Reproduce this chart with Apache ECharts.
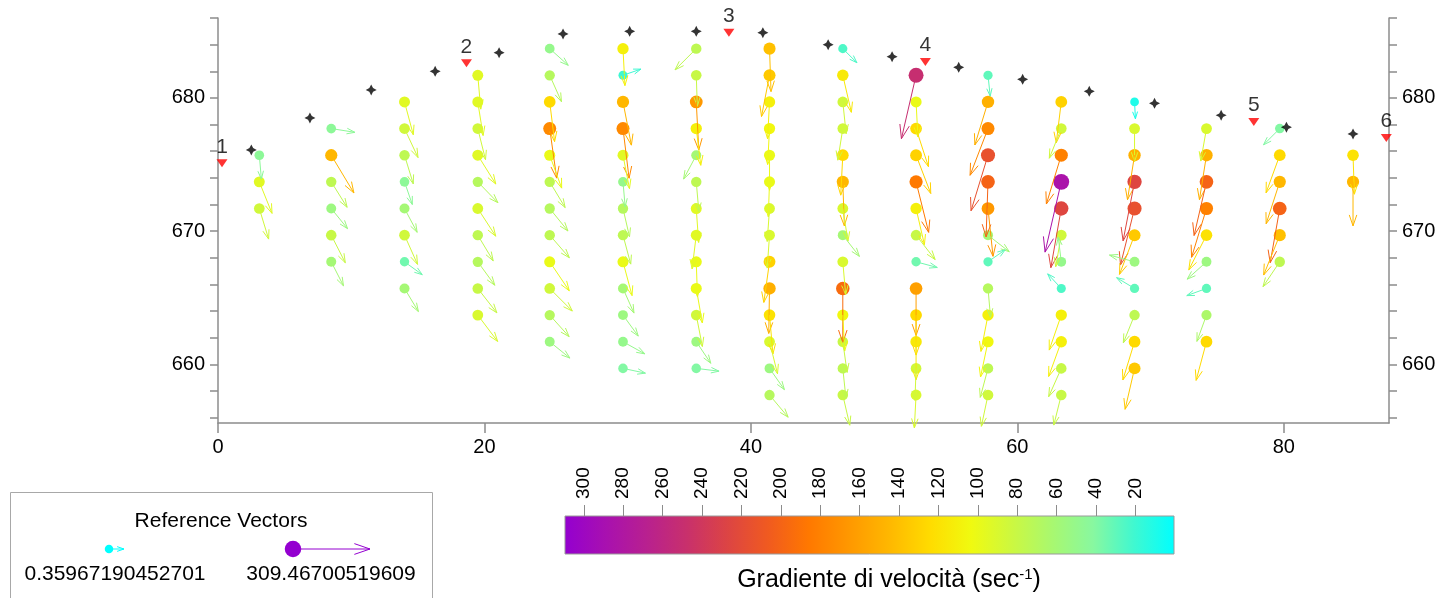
<!DOCTYPE html>
<html>
<head>
<meta charset="utf-8">
<script src="https://cdn.jsdelivr.net/npm/echarts@6/dist/echarts.min.js"></script>
<style>
  html, body { margin: 0; padding: 0; background: #ffffff; }
  #chart { width: 1443px; height: 598px; }
</style>
</head>
<body>
<div id="chart"></div>
<script>
// ---- data ---------------------------------------------------------------
// x position (m) of each vertical line of vectors
const columnX = [3.1, 8.5, 14.0, 19.5, 24.9, 30.4, 35.9, 41.4, 46.9, 52.4, 57.8, 63.3, 68.8, 74.2, 79.7, 85.2];

// per column: [elevation (m), velocity gradient (1/s), direction (deg, 0 = +x, counter-clockwise)]
const col01 = [[675.7, 45, -85], [673.7, 95, -68], [671.7, 85, -73]];
const col02 = [[677.7, 45, -9], [675.7, 145, -59], [673.7, 75, -58], [671.7, 55, -51], [669.7, 80, -63], [667.7, 60, -63]];
const col03 = [[679.7, 95, -75], [677.7, 85, -65], [675.7, 75, -73], [673.7, 45, -71], [671.7, 60, -62], [669.7, 85, -66], [667.7, 35, -36], [665.7, 60, -59]];
const col04 = [[681.7, 95, -85], [679.7, 95, -81], [677.7, 85, -76], [675.7, 95, -58], [673.7, 70, -46], [671.7, 90, -57], [669.7, 75, -59], [667.7, 70, -54], [665.7, 80, -52], [663.7, 90, -53]];
const col05 = [[683.7, 50, -42], [681.7, 70, -66], [679.7, 125, -83], [677.7, 175, -82], [675.7, 100, -70], [673.7, 75, -59], [671.7, 70, -51], [669.7, 75, -49], [667.7, 100, -56], [665.7, 85, -45], [663.7, 70, -48], [661.7, 55, -39]];
const col06 = [[683.7, 110, -87], [681.7, 20, 19], [679.7, 145, -79], [677.7, 175, -83], [675.7, 95, -79], [673.7, 50, -85], [671.7, 70, -77], [669.7, 75, -75], [667.7, 100, -75], [665.7, 60, -66], [663.7, 55, -54], [661.7, 50, -29], [659.7, 40, -12]];
const col07 = [[683.7, 75, -135], [681.7, 80, -88], [679.7, 165, -87], [677.7, 110, -83], [675.7, 60, -118], [673.7, 75, -85], [671.7, 95, -86], [669.7, 95, -97], [667.7, 100, -88], [665.7, 100, -80], [663.7, 85, -79], [661.7, 55, -56], [659.7, 40, -7]];
const col08 = [[683.7, 140, -88], [681.7, 135, -101], [679.7, 110, -93], [677.7, 105, -93], [675.7, 100, -90], [673.7, 100, -92], [671.7, 90, -94], [669.7, 90, -94], [667.7, 130, -98], [665.7, 150, -91], [663.7, 120, -85], [661.7, 90, -76], [659.7, 55, -55], [657.7, 70, -50]];
const col09 = [[683.7, 25, -45], [681.7, 115, -77], [679.7, 85, -84], [677.7, 85, -99], [675.7, 125, -93], [673.7, 145, -88], [671.7, 90, -81], [669.7, 60, -52], [667.7, 90, -85], [665.7, 195, -90], [663.7, 105, -87], [661.7, 80, -82], [659.7, 75, -84], [657.7, 80, -77]];
const col10 = [[681.7, 250, -103], [679.7, 100, -87], [677.7, 125, -72], [675.7, 130, -69], [673.7, 185, -76], [671.7, 110, -77], [669.7, 80, -52], [667.7, 35, -15], [665.7, 160, -90], [663.7, 125, -90], [661.7, 115, -90], [659.7, 85, -92], [657.7, 90, -93]];
const col11 = [[681.7, 30, -84], [679.7, 150, -107], [677.7, 175, -111], [675.7, 215, -107], [673.7, 200, -92], [671.7, 165, -84], [669.7, 60, -38], [667.7, 30, 35], [665.7, 70, -85], [663.7, 110, -101], [661.7, 105, -102], [659.7, 75, -105], [657.7, 85, -102]];
const col12 = [[679.7, 130, -97], [677.7, 85, -112], [675.7, 180, -107], [673.7, 285, -103], [671.7, 225, -100], [669.7, 85, -100], [667.7, 50, 97], [665.7, 25, 133], [663.7, 110, -109], [661.7, 110, -110], [659.7, 80, -114], [657.7, 80, -104]];
const col13 = [[679.7, 10, -87], [677.7, 90, -90], [675.7, 150, -99], [673.7, 225, -101], [671.7, 215, -104], [669.7, 135, -111], [667.7, 55, 165], [665.7, 30, 149], [663.7, 75, -112], [661.7, 125, -107], [659.7, 135, -103]];
const col14 = [[677.7, 90, -100], [675.7, 150, -99], [673.7, 200, -103], [671.7, 180, -107], [669.7, 120, -117], [667.7, 55, -138], [665.7, 30, -160], [663.7, 65, -110], [661.7, 125, -105]];
const col15 = [[677.7, 40, -135], [675.7, 125, -110], [673.7, 145, -108], [671.7, 200, -100], [669.7, 140, -112], [667.7, 75, -124]];
const col16 = [[675.7, 120, -88], [673.7, 145, -90]];

// ground surface survey points
const surfaceX = [2.5, 6.9, 11.5, 16.3, 21.1, 25.9, 30.9, 35.9, 40.9, 45.8, 50.6, 55.6, 60.4, 65.4, 70.3, 75.3, 80.2, 85.2];
const surfaceY = [676.1, 678.5, 680.6, 682.0, 683.4, 684.8, 685.0, 685.0, 684.9, 684.0, 683.1, 682.3, 681.4, 680.5, 679.6, 678.7, 677.8, 677.3];

// numbered stations
const stationName = ['1', '2', '3', '4', '5', '6'];
const stationX = [0.3, 18.65, 38.35, 53.1, 77.75, 87.7];
const stationY = [675.1, 682.6, 684.9, 682.7, 678.2, 677.0];

// axis ticks
const xTickStep = 20;
const yLabelValues = [660, 670, 680];
const yTickValues = [656, 658, 660, 662, 664, 666, 668, 670, 672, 674, 676, 678, 680, 682, 684, 686];
const colorbarTicks = [20, 40, 60, 80, 100, 120, 140, 160, 180, 200, 220, 240, 260, 280, 300];

// reference vectors (smallest and largest gradient)
const refVectors = [0.35967190452701, 309.46700519609];
const refLabels = ['0.35967190452701', '309.46700519609'];

// ---- styling helpers -----------------------------------------------------
const FONT = '"Liberation Sans", Arial, Helvetica, sans-serif';
const AXIS_GRAY = '#8c8c8c';
// colour ramp, low gradient -> high gradient
const palette = ['#00ffff', '#40f8d0', '#88f8a0', '#a8f870', '#ccf840', '#f0fa10', '#ffdc00', '#ffb800',
                 '#ff9800', '#ff7800', '#f05a20', '#dc4444', '#c8306c', '#b82090', '#a810b0', '#9400d0'];
const gMin = refVectors[0], gMax = refVectors[1];
const norm = g => Math.max(0, Math.min(1, (g - gMin) / (gMax - gMin)));
const colorOf = g => echarts.color.lerp(norm(g), palette);
const dotSize = g => 8.5 + 8 * norm(g);        // symbol diameter, px
const arrowLen = g => 15 + 62 * norm(g);       // vector length, px

function arrowShapes(x0, y0, g, angDeg, color) {
  const a = angDeg * Math.PI / 180;
  const L = arrowLen(g);
  const tx = x0 + L * Math.cos(a), ty = y0 - L * Math.sin(a);
  const h = 5 + 0.15 * L, spread = 19 * Math.PI / 180;
  const back = Math.atan2(y0 - ty, x0 - tx);
  const style = { stroke: color, lineWidth: 1, fill: null };
  return [
    { type: 'polyline', shape: { points: [[x0, y0], [tx, ty]] }, style: style },
    { type: 'polyline', shape: { points: [
        [tx + h * Math.cos(back + spread), ty + h * Math.sin(back + spread)],
        [tx, ty],
        [tx + h * Math.cos(back - spread), ty + h * Math.sin(back - spread)]] }, style: style }
  ];
}

// ---- assemble -------------------------------------------------------------
const columns = [col01, col02, col03, col04, col05, col06, col07, col08, col09, col10, col11, col12, col13, col14, col15, col16];
const vectors = [];
columns.forEach((col, i) => col.forEach(r => vectors.push([columnX[i], r[0], r[1], r[2]])));
const surface = surfaceX.map((x, i) => [x, surfaceY[i]]);
const stations = stationX.map((x, i) => ({ value: [x, stationY[i]], name: stationName[i] }));

const starPath = 'path://M0,-10L3.4,-3.4L10,0L3.4,3.4L0,10L-3.4,3.4L-10,0L-3.4,-3.4Z';

const legendGraphics = [
  { type: 'rect', shape: { x: 10.5, y: 492.5, width: 422, height: 130 }, style: { fill: '#fff', stroke: '#a8a8a8', lineWidth: 1 } },
  { type: 'text', x: 221, y: 521, style: { text: 'Reference Vectors', font: '21px ' + FONT, fill: '#000', textAlign: 'center', textVerticalAlign: 'middle' } }
];
const refDotX = [109, 293], refLabelX = [115, 331];
refVectors.forEach((g, i) => {
  const c = colorOf(g);
  arrowShapes(refDotX[i], 549, g, 0, c).forEach(s => legendGraphics.push(s));
  legendGraphics.push({ type: 'circle', shape: { cx: refDotX[i], cy: 549, r: dotSize(g) / 2 }, style: { fill: c } });
  legendGraphics.push({ type: 'text', x: refLabelX[i], y: 574, style: { text: refLabels[i], font: '21px ' + FONT, fill: '#000', textAlign: 'center', textVerticalAlign: 'middle' } });
});

const chart = echarts.init(document.getElementById('chart'), null, { renderer: 'canvas' });
chart.setOption({
  backgroundColor: '#ffffff',
  animation: false,
  textStyle: { fontFamily: FONT },
  grid: [
    { left: 218, right: 54, top: 18, bottom: 175 },
    { left: 565, top: 516, width: 609, height: 38 }
  ],
  xAxis: [
    {
      gridIndex: 0, type: 'value', min: 0, max: 87.9, interval: xTickStep,
      axisLine: { show: true, lineStyle: { color: AXIS_GRAY, width: 1.5 } },
      axisTick: { show: true, length: 10, lineStyle: { color: AXIS_GRAY, width: 1.5 } },
      axisLabel: { fontSize: 20, color: '#000', margin: 14, fontFamily: FONT, showMaxLabel: false },
      splitLine: { show: false }
    },
    {
      gridIndex: 1, type: 'value', position: 'top', inverse: true, min: gMin, max: gMax,
      axisLine: { show: false },
      axisTick: { show: false },
      axisLabel: { show: true, rotate: 90, fontSize: 19, color: '#000', margin: 17, customValues: colorbarTicks, fontFamily: FONT },
      splitLine: { show: false }
    }
  ],
  yAxis: [
    {
      gridIndex: 0, type: 'value', position: 'left', min: 655.6, max: 686,
      axisLine: { show: true, lineStyle: { color: AXIS_GRAY, width: 1.5 } },
      axisTick: { show: true, length: 8, customValues: yTickValues, lineStyle: { color: AXIS_GRAY, width: 1.5 } },
      axisLabel: { fontSize: 20, color: '#000', margin: 13, customValues: yLabelValues, fontFamily: FONT },
      splitLine: { show: false }
    },
    {
      gridIndex: 0, type: 'value', position: 'right', min: 655.6, max: 686,
      axisLine: { show: true, lineStyle: { color: AXIS_GRAY, width: 1.5 } },
      axisTick: { show: true, length: 8, customValues: yTickValues, lineStyle: { color: AXIS_GRAY, width: 1.5 } },
      axisLabel: { fontSize: 20, color: '#000', margin: 13, customValues: yLabelValues, fontFamily: FONT },
      splitLine: { show: false }
    },
    { gridIndex: 1, type: 'value', min: 0, max: 1, show: false }
  ],
  series: [
    {
      // vector origins, coloured and sized by gradient
      type: 'scatter', xAxisIndex: 0, yAxisIndex: 0, z: 3,
      data: vectors,
      symbol: 'circle',
      symbolSize: v => dotSize(v[2]),
      itemStyle: { color: p => colorOf(p.value[2]), opacity: 1 },
      clip: false,
      silent: true
    },
    {
      // vector arrows
      type: 'custom', xAxisIndex: 0, yAxisIndex: 0, z: 4,
      data: vectors,
      clip: false, silent: true,
      renderItem: (params, api) => {
        const p = api.coord([api.value(0), api.value(1)]);
        const g = api.value(2);
        return { type: 'group', children: arrowShapes(p[0], p[1], g, api.value(3), colorOf(g)) };
      }
    },
    {
      // ground surface
      type: 'scatter', xAxisIndex: 0, yAxisIndex: 0, z: 5,
      data: surface, symbol: starPath, symbolSize: 11,
      itemStyle: { color: '#000' }, clip: false, silent: true
    },
    {
      // stations
      type: 'scatter', xAxisIndex: 0, yAxisIndex: 0, z: 6,
      data: stations, symbol: 'triangle', symbolRotate: 180, symbolSize: [11, 8],
      itemStyle: { color: '#ff0000' }, clip: false, silent: true,
      label: { show: true, position: 'top', distance: 2, formatter: p => p.name, fontSize: 21, color: '#000', fontFamily: FONT }
    },
    {
      // colour bar with its tick marks
      type: 'custom', xAxisIndex: 1, yAxisIndex: 2, silent: true, clip: false,
      data: [[gMin, 0]],
      renderItem: (params, api) => {
        const cs = params.coordSys;
        const n = palette.length;
        const stops = palette.slice().reverse().map((c, i) => ({ offset: i / (n - 1), color: c }));
        const children = [{
          type: 'rect',
          shape: { x: cs.x, y: cs.y, width: cs.width, height: cs.height },
          style: { fill: new echarts.graphic.LinearGradient(0, 0, 1, 0, stops), stroke: '#9a9a9a', lineWidth: 1 }
        }];
        colorbarTicks.forEach(v => {
          const px = Math.round(api.coord([v, 1])[0]) + 0.5;
          children.push({ type: 'line', shape: { x1: px, y1: cs.y, x2: px, y2: cs.y - 11 }, style: { stroke: AXIS_GRAY, lineWidth: 1 } });
        });
        return { type: 'group', children: children };
      }
    }
  ],
  graphic: legendGraphics.concat([
    {
      type: 'text', x: 889, y: 580,
      style: {
        text: '{m|Gradiente di velocità (sec}{s|-1}{m|)}',
        textAlign: 'center', textVerticalAlign: 'middle',
        rich: {
          m: { fontSize: 25, fontFamily: FONT, fill: '#000', color: '#000' },
          s: { fontSize: 15, fontFamily: FONT, fill: '#000', color: '#000', verticalAlign: 'top', padding: [0, 0, 9, 0] }
        }
      }
    }
  ])
});
</script>
</body>
</html>
